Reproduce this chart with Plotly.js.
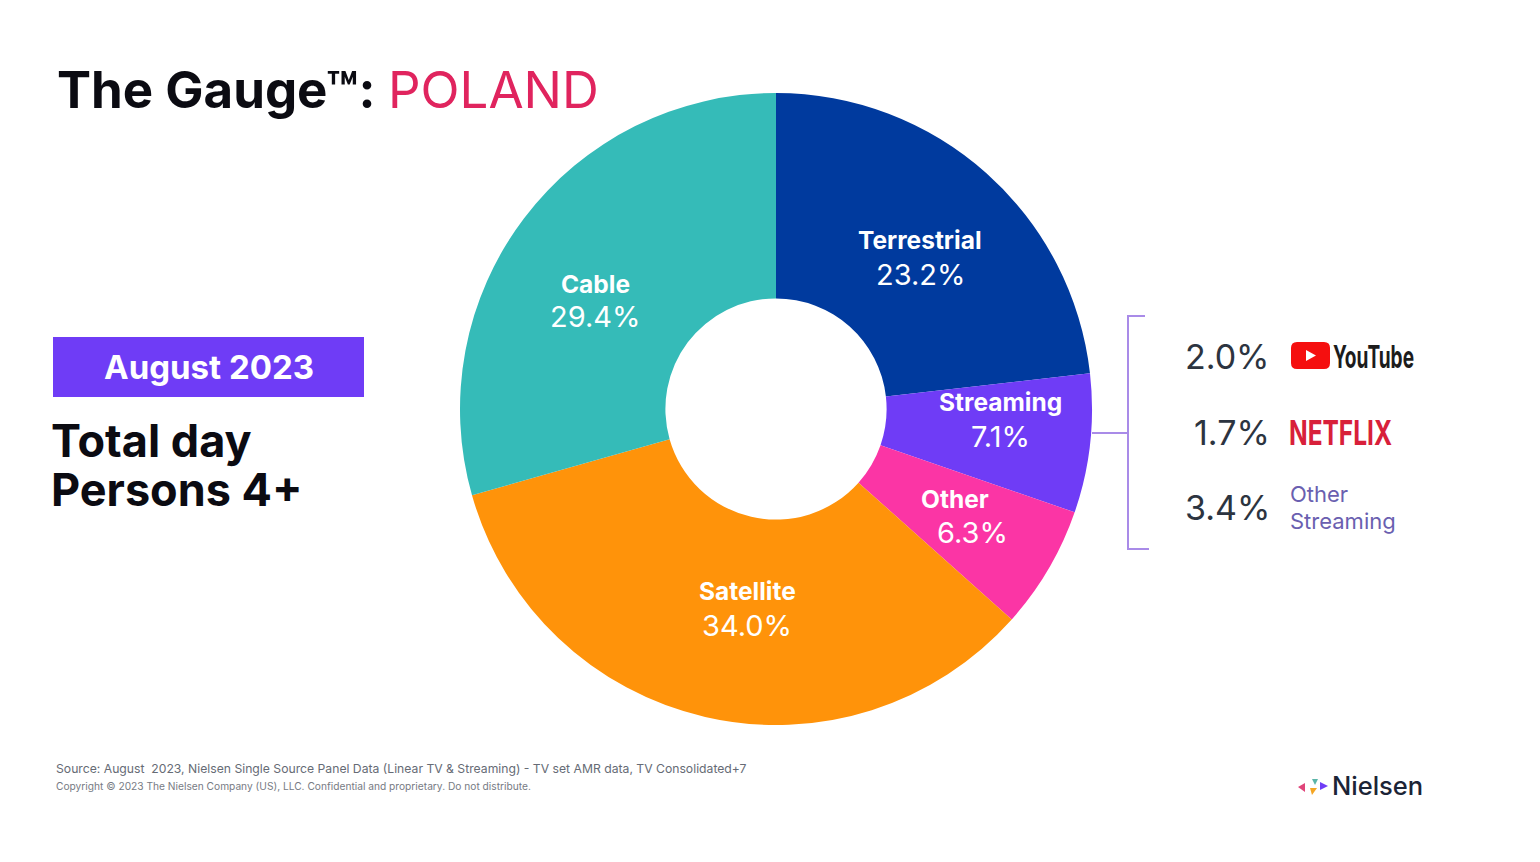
<!DOCTYPE html>
<html><head><meta charset="utf-8">
<script src="https://cdn.plot.ly/plotly-3.0.1.min.js"></script>
<style>html,body{margin:0;padding:0;background:#fff}#c{width:1540px;height:862px}</style>
</head><body><div id="c"></div>
<script>
const categories = ["Terrestrial","Streaming","Other","Satellite","Cable"];
const shares = [23.2,7.1,6.3,34.0,29.4];
const sliceColors = ["#003a9e","#6f3cf6","#fb35a5","#ff930a","#35bbb8"];
const streamingValues = ["2.0%","1.7%","3.4%"];
const titleMain = "The Gauge™:";
const titleCountry = "POLAND";
const dateLabel = "August 2023";
const sourceLine = "Source: August  2023, Nielsen Single Source Panel Data (Linear TV & Streaming) - TV set AMR data, TV Consolidated+7";
const copyrightLine = "Copyright © 2023 The Nielsen Company (US), LLC. Confidential and proprietary. Do not distribute.";

const W=1540,H=862;
const px=x=>x/W, py=y=>1-y/H;
const F="Inter, sans-serif";
function note(x,y,text,size,color,anchor,extra){
  return Object.assign({xref:"paper",yref:"paper",x:px(x),y:py(y),text,showarrow:false,
    xanchor:anchor||"left",yanchor:"middle",align:anchor||"left",font:Object.assign({family:F,size,color},extra||{})});
}
const bracket="#a98be8";
const P=(d,fill,line)=>({type:"path",xref:"paper",yref:"paper",path:d,fillcolor:fill||"rgba(0,0,0,0)",line:line||{width:0}});
const pt=(x,y)=>px(x)+","+py(y);
const shapes=[
 {type:"rect",xref:"paper",yref:"paper",x0:px(53),x1:px(364),y0:py(397),y1:py(337),fillcolor:"#6f3cf6",line:{width:0}},
 P("M"+pt(1145,316)+" L"+pt(1128,316)+" L"+pt(1128,549)+" L"+pt(1149,549),null,{color:bracket,width:2}),
 P("M"+pt(1092,433)+" L"+pt(1128,433),null,{color:bracket,width:2}),
 P("M"+pt(1297,342)+" L"+pt(1324,342)+" Q"+pt(1330,342)+" "+pt(1330,348)+" L"+pt(1330,363)+" Q"+pt(1330,369)+" "+pt(1324,369)+" L"+pt(1297,369)+" Q"+pt(1291,369)+" "+pt(1291,363)+" L"+pt(1291,348)+" Q"+pt(1291,342)+" "+pt(1297,342)+" Z","#f50f0f"),
 P("M"+pt(1306,350)+" L"+pt(1316,355.5)+" L"+pt(1306,361)+" Z","#ffffff"),
 P("M"+pt(1298,787)+" L"+pt(1305,783)+" L"+pt(1305,792)+" Z","#e0457a"),
 P("M"+pt(1312,779)+" L"+pt(1318,779)+" L"+pt(1315,785)+" Z","#5bb5a8"),
 P("M"+pt(1320,782)+" L"+pt(1328,786)+" L"+pt(1320,790)+" Z","#6f3cf6"),
 P("M"+pt(1310,788)+" L"+pt(1317,788)+" L"+pt(1312,795)+" Z","#f5a623")
];
// label placement inside each slice: name x, name y, value x, value y
const labelSpots=[[920,240,920,274],[1000,402,1000,436],[955,499,972,532],[747,591,747,625],[595,284,595,316]];
const sliceNotes=[];
categories.forEach((c,i)=>{
  const s=labelSpots[i];
  sliceNotes.push(note(s[0],s[1],"<b>"+c+"</b>",24.5,"#fff","center"));
  sliceNotes.push(note(s[2],s[3],shares[i].toFixed(1)+"%",29,"#fff","center"));
});
const annotations=[
 note(55,89,"<b>"+titleMain+"</b>",51,"#0b0b12"),
 note(386,89,titleCountry,51,"#e0245e"),
 note(208.5,367,"<b>"+dateLabel+"</b>",33,"#ffffff","center"),
 note(49,440,"<b>Total day</b>",45,"#0b0b12"),
 note(49,489,"<b>Persons 4+</b>",45,"#0b0b12"),
 note(1272,356,streamingValues[0],34,"#2c3440","right"),
 note(1272,432,streamingValues[1],34,"#2c3440","right"),
 note(1272,507,streamingValues[2],34,"#2c3440","right"),
 note(1331,356,"<b>YouTube</b>",31,"#1c1c1c"),
 note(1287,433,"<b>NETFLIX</b>",34,"#d8203a"),
 note(1288,494,"Other",22,"#6a5fb0"),
 note(1288,521,"Streaming",22,"#6a5fb0"),
 note(54,768,sourceLine,12.2,"#666b75"),
 note(54,786,copyrightLine,10.2,"#777b84"),
 note(1330,785,"Nielsen",25.5,"#1c2436","left",{weight:500})
].concat(sliceNotes);
Plotly.newPlot("c",[{
  type:"pie",labels:categories,values:shares,sort:false,direction:"clockwise",rotation:0,hole:0.35,
  marker:{colors:sliceColors,line:{width:0}},
  domain:{x:[460/W,1092/W],y:[1-725.5/H,1-92.5/H]},
  textinfo:"none",showlegend:false,hoverinfo:"label+value"
}],{width:W,height:H,margin:{l:0,r:0,t:0,b:0},paper_bgcolor:"#fff",showlegend:false,shapes,annotations,font:{family:F}},{displayModeBar:false,staticPlot:true}).then(gd=>{
  // the two brand words are set in a condensed cut, which no installed font offers
  const squeeze={"YouTube":81,"NETFLIX":103};
  gd.querySelectorAll(".annotation-text").forEach(t=>{
    const w=squeeze[t.textContent];
    if(w){t.setAttribute("textLength",w);t.setAttribute("lengthAdjust","spacingAndGlyphs");}
  });
});
</script></body></html>
